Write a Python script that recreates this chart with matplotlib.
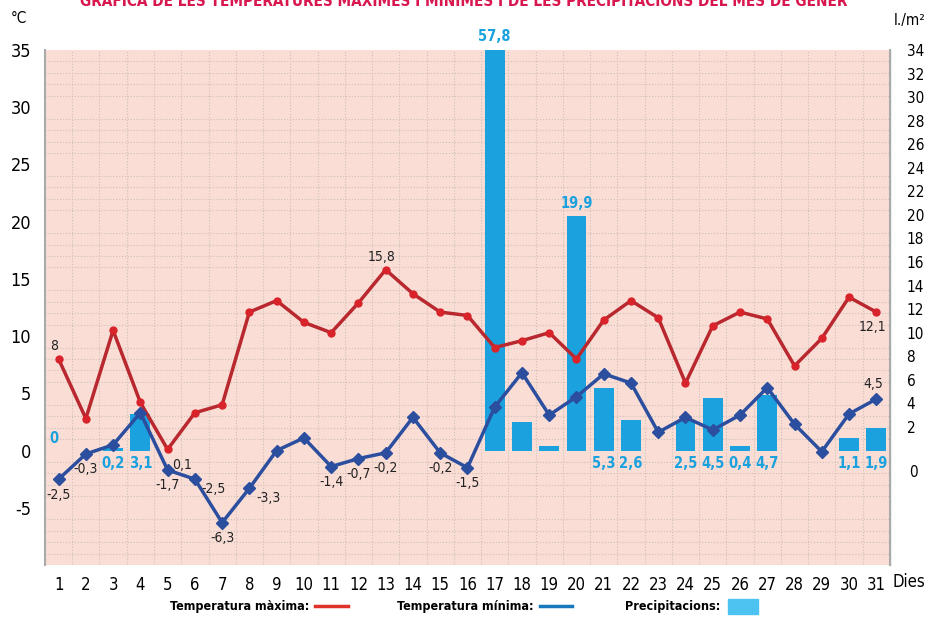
import matplotlib
matplotlib.use("Agg")
import matplotlib.pyplot as plt
from matplotlib.lines import Line2D
from matplotlib.patches import Rectangle
import numpy as np

plt.rcParams['font.family'] = ['DejaVu Sans']
plt.rcParams['font.stretch'] = 'condensed'
plt.rcParams['axes.unicode_minus'] = False

days = list(range(1, 32))
t_max = [8.0, 2.8, 10.5, 4.2, 0.1, 3.3, 4.0, 12.1, 13.1, 11.2, 10.3, 12.9, 15.8, 13.7, 12.1, 11.8,
         9.0, 9.6, 10.3, 8.0, 11.4, 13.1, 11.6, 5.9, 10.9, 12.1, 11.5, 7.4, 9.8, 13.4, 12.1]
t_min = [-2.5, -0.3, 0.5, 3.3, -1.7, -2.5, -6.3, -3.3, 0.0, 1.1, -1.4, -0.7, -0.2, 2.9, -0.2, -1.5,
         3.8, 6.8, 3.1, 4.7, 6.7, 5.9, 1.6, 2.9, 1.8, 3.1, 5.5, 2.3, -0.1, 3.2, 4.5]
precip = [0.0, 0.0, 0.2, 3.1, 0.0, 0.0, 0.0, 0.0, 0.0, 0.0, 0.0, 0.0, 0.0, 0.0, 0.0, 0.0,
          57.8, 2.4, 0.4, 19.9, 5.3, 2.6, 0.0, 2.5, 4.5, 0.4, 4.7, 0.0, 0.0, 1.1, 1.9]

# labels that are readable in the original
max_labelled = [1, 5, 13, 31]
min_labelled = [1, 2, 5, 6, 7, 8, 11, 12, 13, 15, 16, 31]
rain_labelled = [1, 3, 4, 17, 20, 21, 22, 24, 25, 26, 27, 30, 31]

def fmt(v):
    s = ('%.1f' % v).replace('.', ',')
    if s.endswith(',0'):
        s = s[:-2]
    return s

fig = plt.figure(figsize=(9.27, 6.2), dpi=100)
ax = fig.add_axes([0.0485, 0.0887, 0.9115, 0.8307])
ax.set_facecolor('#FADED6')
ax.set_xlim(0.56, 31.48)
ax.set_ylim(-10, 35)
ax.set_yticks(np.arange(-5, 36, 5))
ax.set_yticks(np.arange(-10, 36, 1), minor=True)
ax.set_xticks(days)
ax.set_xticks(np.arange(0.5, 32, 1), minor=True)
ax.grid(which='minor', color='#CDBFB9', linestyle=':', linewidth=0.8)
ax.tick_params(which='both', length=0)
ax.tick_params(axis='y', labelsize=13, pad=10)
ax.tick_params(axis='x', labelsize=12, pad=8)
for s in ['top', 'bottom']:
    ax.spines[s].set_visible(False)
ax.spines['left'].set_color('#AAAAAA')
ax.spines['left'].set_linewidth(1.5)

ax2 = ax.twinx()
ax2.set_ylim(-10 * 34 / 35, 34)
ax2.set_yticks(np.arange(2, 35, 2))
ax2.tick_params(length=0, labelsize=11, pad=12)
for s in ['top', 'bottom', 'left']:
    ax2.spines[s].set_visible(False)
ax2.spines['right'].set_color('#AAAAAA')
ax2.spines['right'].set_linewidth(1.5)
ax2.bar(days, precip, width=0.73, color='#1BA1DE', zorder=2)
ax2.annotate('0', xy=(1, 0), xycoords=('axes fraction', 'data'), xytext=(14, -16),
             textcoords='offset points', fontsize=11, va='center')

for d in rain_labelled:
    v = precip[d - 1]
    if d == 1:
        ax2.annotate(fmt(v), (d, v), xytext=(-3, 3), textcoords='offset points',
                     ha='center', va='bottom', color='#1BA1DE', fontsize=10.5, fontweight='bold')
    elif v > 10:
        ax2.annotate(fmt(v), (d, min(v, 34)), xytext=(0, 4), textcoords='offset points',
                     ha='center', va='bottom', color='#1BA1DE', fontsize=10.5, fontweight='bold',
                     annotation_clip=False)
    else:
        ax2.annotate(fmt(v), (d, 0), xytext=(0, -4), textcoords='offset points',
                     ha='center', va='top', color='#1BA1DE', fontsize=10.5, fontweight='bold')

# lines on top of the bars
ax3 = fig.add_axes(ax.get_position(), sharex=ax, sharey=ax)
ax3.set_axis_off()
ax3.plot(days, t_max, color='#B8282E', linewidth=2.5, marker='o', markersize=5,
         markerfacecolor='#D9232B', markeredgecolor='#D9232B')
ax3.plot(days, t_min, color='#2C4E9E', linewidth=2.5, marker='D', markersize=6.5,
         markerfacecolor='#2C4E9E', markeredgecolor='#2C4E9E')

for d in max_labelled:
    v = t_max[d - 1]
    if d == 5:
        ax3.annotate(fmt(v), (d, v), xytext=(3, -6), textcoords='offset points',
                     ha='left', va='top', fontsize=10, color='#222222')
    elif d == 31:
        ax3.annotate(fmt(v), (d, v), xytext=(-3, -6), textcoords='offset points',
                     ha='center', va='top', fontsize=10, color='#222222')
    else:
        ax3.annotate(fmt(v), (d, v), xytext=(-3, 4), textcoords='offset points',
                     ha='center', va='bottom', fontsize=10, color='#222222')

for d in min_labelled:
    v = t_min[d - 1]
    if d == 31:
        ax3.annotate(fmt(v), (d, v), xytext=(-2, 6), textcoords='offset points',
                     ha='center', va='bottom', fontsize=10, color='#222222')
    elif d in (6, 8):
        ax3.annotate(fmt(v), (d, v), xytext=(5, -2), textcoords='offset points',
                     ha='left', va='top', fontsize=10, color='#222222')
    else:
        ax3.annotate(fmt(v), (d, v), xytext=(0, -6), textcoords='offset points',
                     ha='center', va='top', fontsize=10, color='#222222')

fig.text(0.5, 0.998, 'GRÀFICA DE LES TEMPERATURES MÀXIMES I MÍNIMES I DE LES PRECIPITACIONS DEL MES DE GENER',
         ha='center', va='center', color='#D8174F', fontsize=11, fontweight='bold')
fig.text(0.012, 0.97, '°C', fontsize=11, va='center')
fig.text(0.998, 0.967, 'l./m²', fontsize=11, va='center', ha='right')
fig.text(0.998, 0.061, 'Dies', fontsize=12, va='center', ha='right')

# legend
fig.text(0.183, 0.022, 'Temperatura màxima:', fontsize=9, fontweight='bold', va='center')
fig.add_artist(Line2D([0.340, 0.375], [0.022, 0.022], color='#E0302A', linewidth=2.5))
fig.text(0.428, 0.022, 'Temperatura mínima:', fontsize=9, fontweight='bold', va='center')
fig.add_artist(Line2D([0.583, 0.617], [0.022, 0.022], color='#1677BD', linewidth=2.5))
fig.text(0.674, 0.022, 'Precipitacions:', fontsize=9, fontweight='bold', va='center')
fig.add_artist(Rectangle((0.785, 0.010), 0.033, 0.024, color='#4DC3F1'))

fig.savefig('out.png', dpi=100)
